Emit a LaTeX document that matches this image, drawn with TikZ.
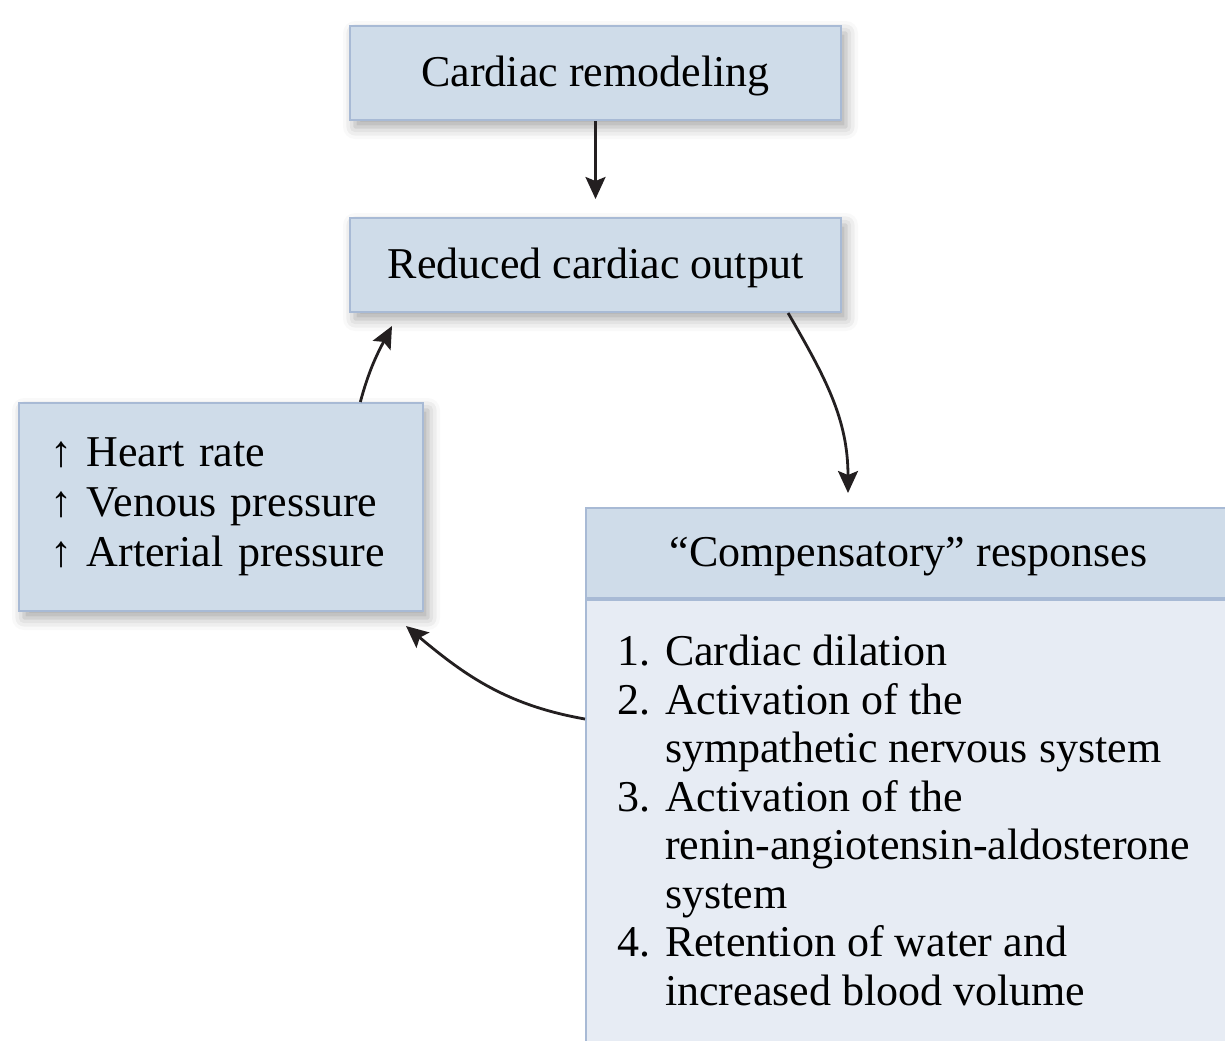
\documentclass[tikz,border=0pt]{standalone}
\usepackage{fontspec}
\setmainfont{Liberation Serif}
\usepackage{tikz}
\usetikzlibrary{arrows.meta,positioning,shadows.blur}
\definecolor{boxblue}{RGB}{207,220,233}
\definecolor{paleblue}{RGB}{231,236,244}
\definecolor{edgeblue}{RGB}{168,186,213}
\definecolor{inkgray}{RGB}{35,31,32}

\begin{document}
\begin{tikzpicture}[
  x=0.5pt, y=0.5pt,
  box/.style={rectangle, draw=edgeblue, line width=1pt, fill=boxblue, inner sep=0pt,
    font=\fontsize{22}{25}\selectfont},
  oneline/.style={text height=15pt, text depth=2pt},
  shade box/.style={box, blur shadow={shadow xshift=2.5pt, shadow yshift=-3.5pt,
    shadow blur radius=6pt, shadow opacity=35}},
  flow/.style={draw=inkgray, line width=1.4pt, -{Stealth[length=11pt, width=10pt, inset=2pt]}}
]
\useasboundingbox (0,0) rectangle (1225,-1040);
\clip (0,0) rectangle (1225,-1040);

% main chain
\node[shade box, oneline, minimum width=245.5pt, minimum height=47pt] (remod) at (595.5,-73) {Cardiac remodeling};
\node[shade box, oneline, minimum width=245.5pt, minimum height=47pt] (rco) at (595.5,-265) {Reduced cardiac output};
\node[shade box, text width=171pt, minimum height=104pt, inner xsep=15.5pt, align=left] (signs) at (221,-507)
  {↑ Heart rate\\↑ Venous pressure\\↑ Arterial pressure};

% responses box
\node[box, oneline, anchor=north west, minimum width=322.5pt, minimum height=45pt] (resp) at (585,-507)
  {“Compensatory” responses};
\node[box, fill=paleblue, anchor=north, minimum width=322.5pt, minimum height=235pt] (respbody) at (resp.south) {};
\node[anchor=north west, inner sep=0pt, align=left, font=\fontsize{22}{24.25}\selectfont] (resplist)
  at ([xshift=16pt, yshift=-18pt]respbody.north west)
  {1. Cardiac dilation\\
   2. Activation of the\\
   \phantom{2. }sympathetic nervous system\\
   3. Activation of the\\
   \phantom{3. }renin-angiotensin-aldosterone\\
   \phantom{3. }system\\
   4. Retention of water and\\
   \phantom{4. }increased blood volume};

% arrows
\draw[flow, shorten >=9pt] (remod) -- (rco);
\draw[flow] (rco.-14.2) to[out=-60, in=90] ([xshift=131.5pt, yshift=7pt]resp.north west);
\draw[flow] ([yshift=58pt]respbody.west) to[out=170, in=-40] ([xshift=-9pt, yshift=-7pt]signs.south east);
\draw[flow] (signs.37.8) to[out=75, in=-118] ([xshift=21.5pt, yshift=-6.5pt]rco.south west);
\end{tikzpicture}
\end{document}
